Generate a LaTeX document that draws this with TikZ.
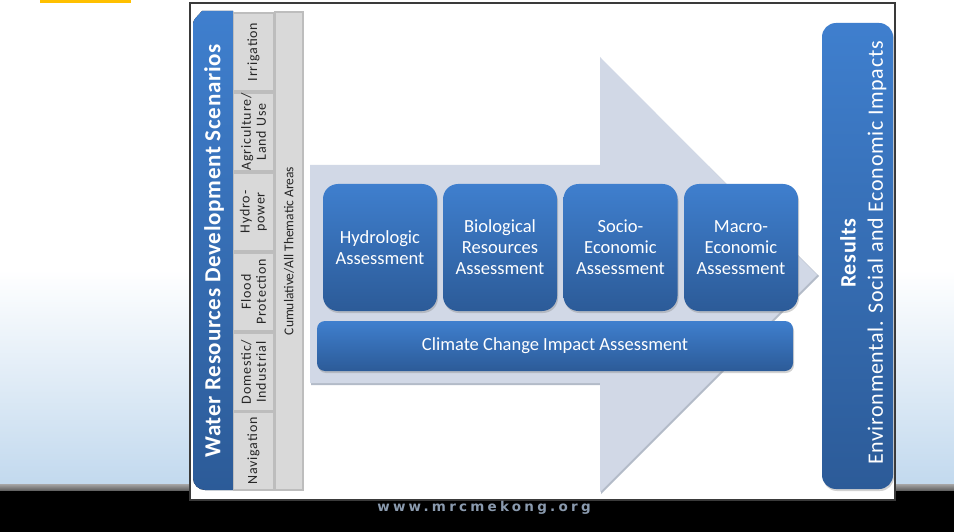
\documentclass[tikz,border=0pt]{standalone}
\usepackage{fontspec}
\setmainfont{Carlito}
\newfontfamily\urlfont[LetterSpace=24]{DejaVu Sans}
\newfontfamily\cellfont[LetterSpace=6]{Carlito}
\newfontfamily\titlefont[LetterSpace=3]{Carlito}
\usetikzlibrary{shadows}
\definecolor{boxtop}{HTML}{3F7FCE}
\definecolor{boxbot}{HTML}{2C5B98}
\definecolor{arrowcol}{HTML}{D1D8E6}
\definecolor{arrowshadow}{HTML}{B3BBC8}
\definecolor{cellfill}{HTML}{D9D9D9}
\definecolor{celldraw}{HTML}{BDBDBD}
\definecolor{bgblue}{HTML}{C2D9EE}
\definecolor{framecol}{HTML}{3A3A3A}
\definecolor{urlgray}{HTML}{8A9AAE}
\definecolor{orangebar}{HTML}{FFC000}
\tikzset{
  bluebox/.style={rounded corners=15pt, top color=boxtop, bottom color=boxbot, draw=none,
    drop shadow={shadow xshift=1pt, shadow yshift=-2pt, opacity=0.35}},
  boxtext/.style={text=white, align=center, font=\fontsize{18.5}{21}\selectfont},
  cell/.style={rotate=90, fill=cellfill, draw=celldraw, line width=1.2pt, inner sep=0pt,
    align=center, text=black!85, font=\cellfont\fontsize{14}{15}\selectfont,
    drop shadow={shadow xshift=1pt, shadow yshift=-1pt, opacity=0.25}},
}
\begin{document}
\begin{tikzpicture}[x=1pt, y=-1pt]
\useasboundingbox (0,0) rectangle (954,532);
% background
\fill[white] (0,0) rectangle (954,532);
\shade[top color=white, bottom color=bgblue] (0,270) rectangle (954,485);
\shade[top color=black!35, bottom color=black!65] (0,484) rectangle (954,491);
\fill[black] (0,491) rectangle (954,532);
\fill[orangebar] (40,0) rectangle (131,3);
% frame
\draw[draw=framecol, line width=1.2pt, fill=white] (190,3) rectangle (895,500);
% big arrow
\fill[arrowshadow] (311,167) -- (601,167) -- (601,59) -- (819,276) -- (601,494) -- (601,385) -- (311,385) -- cycle;
\fill[arrowcol] (310,165) -- (600,165) -- (600,57) -- (817,275) -- (600,492) -- (600,383) -- (310,383) -- cycle;
% title tab
\fill[top color=boxtop, bottom color=boxbot]
  (233,11) -- (202,11) [rounded corners=3pt] -- (193,21) [rounded corners=12pt] -- (193,490) [sharp corners] -- (233,490) -- cycle;
\node (title) at (214,251) [rotate=90, text=white, font=\titlefont\bfseries\fontsize{23}{26}\selectfont]
  {Water Resources Development Scenarios};
% cells
\node[cell, minimum width=78pt, minimum height=40pt] (irr) at (253.5,52) {Irrigation};
\node[cell, minimum width=78pt, minimum height=40pt] (agr) at (253.5,132) {Agriculture/\\Land Use};
\node[cell, minimum width=78pt, minimum height=40pt] (hyd) at (253.5,212) {Hydro-\\power};
\node[cell, minimum width=78pt, minimum height=40pt] (flo) at (253.5,292) {Flood\\Protection};
\node[cell, minimum width=78pt, minimum height=40pt] (dom) at (253.5,372) {Domestic/\\Industrial};
\node[cell, minimum width=78pt, minimum height=40pt] (nav) at (253.5,451) {Navigation};
\node[cell, minimum width=478pt, minimum height=28pt, font=\fontsize{13.5}{15}\selectfont] (cum) at (289,251) {Cumulative/All Thematic Areas};
% assessment boxes
\node[bluebox, minimum width=114pt, minimum height=127pt] (b1) at (380,247.5) {};
\node[bluebox, minimum width=114pt, minimum height=127pt] (b2) at (500,247.5) {};
\node[bluebox, minimum width=114pt, minimum height=127pt] (b3) at (620.5,247.5) {};
\node[bluebox, minimum width=114pt, minimum height=127pt] (b4) at (741,247.5) {};
\node[boxtext] (t1) at (b1.center) {Hydrologic\\Assessment};
\node[boxtext] (t2) at (b2.center) {Biological\\Resources\\Assessment};
\node[boxtext] (t3) at (b3.center) {Socio-\\Economic\\Assessment};
\node[boxtext] (t4) at (b4.center) {Macro-\\Economic\\Assessment};
\node[bluebox, rounded corners=8pt, minimum width=476pt, minimum height=50pt] (cc) at (555,346) {};
\node[boxtext] (cct) at (cc.center) {Climate Change Impact Assessment};
% results
\node[bluebox, rounded corners=14pt, minimum width=71pt, minimum height=466pt] (res) at (857.5,256) {};
\node (rest) at (848,253) [rotate=90, text=white, font=\titlefont\bfseries\fontsize{22}{26}\selectfont] {Results};
\node (ress) at (877,253) [rotate=90, text=white, font=\titlefont\fontsize{22}{26}\selectfont] {Environmental. Social and Economic Impacts};
% url
\node (url) at (484,508) [text=urlgray, font=\urlfont\bfseries\fontsize{13.5}{16}\selectfont] {www.mrcmekong.org};
\end{tikzpicture}
\end{document}
